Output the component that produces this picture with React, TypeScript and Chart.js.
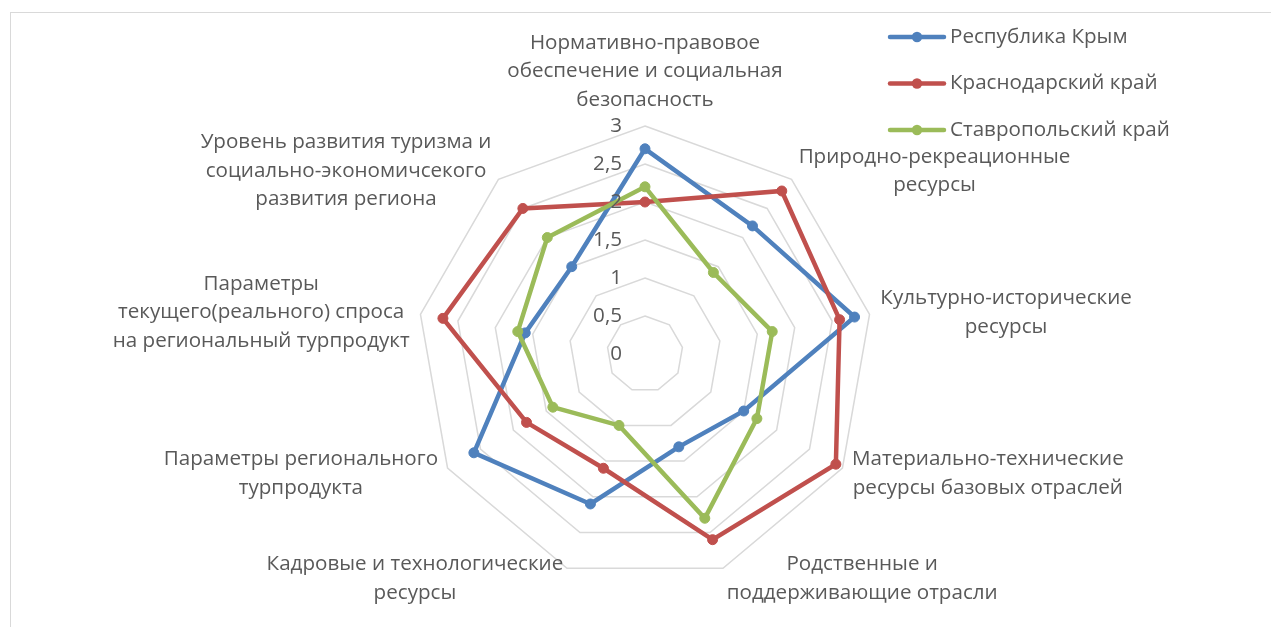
import React, { useEffect, useRef } from "react";
import { Chart, registerables } from "chart.js";

Chart.register(...registerables);

const categories: string[][] = [
  ["Нормативно-правовое", "обеспечение и социальная", "безопасность"],
  ["Природно-рекреационные", "ресурсы"],
  ["Культурно-исторические", "ресурсы"],
  ["Материально-технические", "ресурсы базовых отраслей"],
  ["Родственные и", "поддерживающие отрасли"],
  ["Кадровые и технологические", "ресурсы"],
  ["Параметры регионального", "турпродукта"],
  ["Параметры", "текущего(реального) спроса", "на региональный турпродукт"],
  ["Уровень развития туризма и", "социально-экономичсекого", "развития региона"],
];

const seriesNames = ["Республика Крым", "Краснодарский край", "Ставропольский край"];
const crimea = [2.7, 2.2, 2.8, 1.5, 1.3, 2.1, 2.6, 1.6, 1.5];
const krasnodar = [2.0, 2.8, 2.6, 2.9, 2.6, 1.6, 1.8, 2.7, 2.5];
const stavropol = [2.2, 1.4, 1.7, 1.7, 2.3, 1.0, 1.4, 1.7, 2.0];
const seriesColors = ["#4F81BD", "#C0504D", "#9BBB59"];
const tickLabels = ["0", "0,5", "1", "1,5", "2", "2,5", "3"];

const TEXT = "#595959";
const FONT = '20.6px "Open Sans"';

const overlay = {
  id: "overlay",
  afterDraw(chart: any) {
    const ctx: CanvasRenderingContext2D = chart.ctx;
    const r: any = chart.scales.r;
    ctx.save();
    ctx.font = FONT;
    ctx.fillStyle = TEXT;

    // tick labels, right-aligned left of the vertical axis
    ctx.textAlign = "right";
    ctx.textBaseline = "middle";
    r.ticks.forEach((t: any, i: number) => {
      const d = r.getDistanceFromCenterForValue(t.value);
      ctx.fillText(tickLabels[i] ?? String(t.value), r.xCenter - 23, r.yCenter - d);
    });

    // point labels (centred lines inside each block)
    const n = categories.length;
    const lh = 28.5;
    categories.forEach((lines, i) => {
      const p = r.getPointPosition(i, r.drawingArea + 11);
      const bw = Math.max(...lines.map((l) => ctx.measureText(l).width));
      const deg = (i * 360) / n;
      let cx: number;
      if (deg === 0 || deg === 180) cx = p.x;
      else if (deg < 180) cx = p.x + bw / 2;
      else cx = p.x - bw / 2;
      const firstY = deg === 0 ? p.y - 15 - (lines.length - 1) * lh : p.y - ((lines.length - 1) * lh) / 2;
      ctx.textAlign = "center";
      lines.forEach((l, k) => ctx.fillText(l, cx, firstY + k * lh));
    });

    // legend
    seriesNames.forEach((name, k) => {
      const y = 37 + k * 46.5;
      ctx.strokeStyle = seriesColors[k];
      ctx.lineWidth = 4.5;
      ctx.lineCap = "round";
      ctx.beginPath();
      ctx.moveTo(890, y);
      ctx.lineTo(944, y);
      ctx.stroke();
      ctx.fillStyle = seriesColors[k];
      ctx.beginPath();
      ctx.arc(917, y, 5.2, 0, Math.PI * 2);
      ctx.fill();
      ctx.fillStyle = TEXT;
      ctx.textAlign = "left";
      ctx.fillText(name, 950, y);
    });
    ctx.restore();
  },
};

export default function App() {
  const ref = useRef<HTMLCanvasElement>(null);
  useEffect(() => {
    const values = [crimea, krasnodar, stavropol];
    const chart = new Chart(ref.current!, {
      type: "radar",
      data: {
        labels: categories,
        datasets: values.map((v, k) => ({
          label: seriesNames[k],
          data: v,
          borderColor: seriesColors[k],
          backgroundColor: seriesColors[k],
          pointBackgroundColor: seriesColors[k],
          pointBorderColor: seriesColors[k],
          borderWidth: 4.5,
          pointRadius: 5,
          pointBorderWidth: 1,
          fill: false,
          order: 3 - k,
        })),
      },
      options: {
        animation: false,
        responsive: false,
        devicePixelRatio: 1,
        layout: { padding: { top: 126, bottom: 45, left: 245, right: 226 } },
        plugins: { legend: { display: false }, tooltip: { enabled: false } },
        elements: { line: { tension: 0 } },
        scales: {
          r: {
            min: 0,
            max: 3,
            ticks: { stepSize: 0.5, display: false },
            grid: { color: "#D9D9D9", lineWidth: 1.5 },
            angleLines: { display: false },
            pointLabels: { display: false },
          },
        },
      },
      plugins: [overlay],
    });
    return () => chart.destroy();
  }, []);
  return (
    <div style={{ position: "fixed", inset: 0, overflow: "hidden", background: "#fff" }}>
      <div
        style={{
          position: "absolute",
          left: 10,
          top: 12,
          width: 1300,
          height: 700,
          border: "1.5px solid #D9D9D9",
        }}
      />
      <canvas ref={ref} width={1271} height={627} style={{ position: "absolute", left: 0, top: 0, width: 1271, height: 627 }} />
    </div>
  );
}
